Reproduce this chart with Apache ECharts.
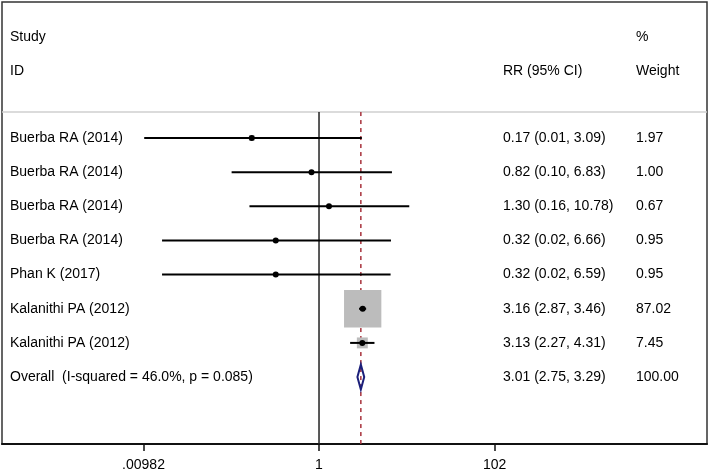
<!DOCTYPE html>
<html><head><meta charset="utf-8">
<script src="https://cdn.jsdelivr.net/npm/echarts@6/dist/echarts.min.js"></script>
<style>html,body{margin:0;padding:0;background:#fff}#c{width:709px;height:472px}</style>
</head><body><div id="c"></div>
<script>
// ---- data ----
const studies = ['Buerba RA (2014)','Buerba RA (2014)','Buerba RA (2014)','Buerba RA (2014)','Phan K (2017)','Kalanithi PA (2012)','Kalanithi PA (2012)'];
const rr      = [0.17, 0.82, 1.30, 0.32, 0.32, 3.16, 3.13];
const ciLow   = [0.01, 0.10, 0.16, 0.016, 0.016, 2.87, 2.27];
const ciHigh  = [3.09, 6.83, 10.78, 6.66, 6.59, 3.46, 4.31];
const weights = [1.97, 1.00, 0.67, 0.95, 0.95, 87.02, 7.45];
const rrText  = ['0.17 (0.01, 3.09)','0.82 (0.10, 6.83)','1.30 (0.16, 10.78)','0.32 (0.02, 6.66)','0.32 (0.02, 6.59)','3.16 (2.87, 3.46)','3.13 (2.27, 4.31)'];
const weightText = ['1.97','1.00','0.67','0.95','0.95','87.02','7.45'];
const overallLabel = 'Overall  (I-squared = 46.0%, p = 0.085)';
const overallValues = [3.01, 2.75, 3.29]; // estimate, low, high
const overallText = '3.01 (2.75, 3.29)';
const overallWeight = '100.00';
const tickValues = [0.00982, 1, 102];
const tickLabels = ['.00982', '1', '102'];
const nullValue = 1;

const FONT = '"Liberation Sans", Arial, Helvetica, sans-serif';
const textStyle = (t, x, y, align) => ({
  text: t, x: x, y: y, fill: '#000', fontSize: 14, fontFamily: FONT,
  textAlign: align || 'left', align: align || 'left',
  textVerticalAlign: 'middle', verticalAlign: 'middle'
});

const yMin = -3.982, yMax = 8.96, yTop = -0.76;

const rowData = rr.map((v, i) => [v, i, ciLow[i], ciHigh[i], weights[i]]);

const chart = echarts.init(document.getElementById('c'), null, {renderer: 'canvas'});
chart.setOption({
  animation: false,
  backgroundColor: '#fff',
  grid: {left: 2, top: 2, width: 705, height: 442, show: true, borderColor: '#333', borderWidth: 1.5},
  xAxis: {
    type: 'log', logBase: 10, position: 'bottom',
    min: Math.pow(10, -3.627), max: Math.pow(10, 4.439),
    axisLine: {show: true, onZero: false, lineStyle: {color: '#111', width: 2}},
    axisTick: {show: true, customValues: tickValues, length: 7, lineStyle: {color: '#111', width: 1.5}},
    axisLabel: {show: true, customValues: tickValues, color: '#000', fontSize: 14, fontFamily: FONT, margin: 14,
      formatter: function (v) {
        let best = 0, bd = Infinity;
        tickValues.forEach((t, k) => { const d = Math.abs(Math.log10(t) - Math.log10(v)); if (d < bd) { bd = d; best = k; } });
        return tickLabels[best];
      }},
    splitLine: {show: false}, minorTick: {show: false}
  },
  yAxis: {type: 'value', inverse: true, min: yMin, max: yMax, show: false},
  graphic: [
    {type: 'line', shape: {x1: 2, y1: 112, x2: 707, y2: 112}, style: {stroke: '#cfcfcf', lineWidth: 1.5}, z: 1},
    {type: 'text', x: 10, y: 37, style: textStyle('Study', 0, 0)},
    {type: 'text', x: 10, y: 71, style: textStyle('ID', 0, 0)},
    {type: 'text', x: 503, y: 71, style: textStyle('RR (95% CI)', 0, 0)},
    {type: 'text', x: 636, y: 37, style: textStyle('%', 0, 0)},
    {type: 'text', x: 636, y: 71, style: textStyle('Weight', 0, 0)}
  ],
  series: [
    {
      type: 'custom', name: 'ref', z: 1, silent: true,
      data: [[nullValue, 0], [overallValues[0], 1]],
      renderItem: function (params, api) {
        const top = api.coord([api.value(0), yTop]);
        const bot = api.coord([api.value(0), yMax]);
        const dashed = api.value(1) === 1;
        return {
          type: 'line',
          shape: {x1: top[0], y1: top[1], x2: bot[0], y2: bot[1]},
          style: dashed ? {stroke: '#a8323c', lineWidth: 1.5, lineDash: [4, 4]} : {stroke: '#222', lineWidth: 1.5}
        };
      }
    },
    {
      type: 'custom', name: 'studies', z: 3, silent: true,
      data: rowData,
      renderItem: function (params, api) {
        const i = params.dataIndex;
        const c = api.coord([api.value(0), api.value(1)]);
        const l = api.coord([api.value(2), api.value(1)]);
        const h = api.coord([api.value(3), api.value(1)]);
        const s = 4.0 * Math.sqrt(api.value(4));
        return {
          type: 'group',
          children: [
            {type: 'rect', shape: {x: c[0] - s / 2, y: c[1] - s / 2, width: s, height: s}, style: {fill: '#bcbcbc'}},
            {type: 'line', shape: {x1: l[0], y1: c[1], x2: h[0], y2: c[1]}, style: {stroke: '#000', lineWidth: 2}},
            {type: 'circle', shape: {cx: c[0], cy: c[1], r: 3}, style: {fill: '#000'}},
            {type: 'text', style: textStyle(studies[i], 10, c[1])},
            {type: 'text', style: textStyle(rrText[i], 503, c[1])},
            {type: 'text', style: textStyle(weightText[i], 636, c[1])}
          ]
        };
      }
    },
    {
      type: 'custom', name: 'overall', z: 3, silent: true,
      data: [[overallValues[0], studies.length, overallValues[1], overallValues[2]]],
      renderItem: function (params, api) {
        const c = api.coord([api.value(0), api.value(1)]);
        const l = api.coord([api.value(2), api.value(1)]);
        const h = api.coord([api.value(3), api.value(1)]);
        return {
          type: 'group',
          children: [
            {type: 'polygon', shape: {points: [[l[0], c[1]], [c[0], c[1] - 12.5], [h[0], c[1]], [c[0], c[1] + 12.5]]},
              style: {fill: 'none', stroke: '#1b1f7a', lineWidth: 2}},
            {type: 'text', style: textStyle(overallLabel, 10, c[1])},
            {type: 'text', style: textStyle(overallText, 503, c[1])},
            {type: 'text', style: textStyle(overallWeight, 636, c[1])}
          ]
        };
      }
    }
  ]
});
</script></body></html>
